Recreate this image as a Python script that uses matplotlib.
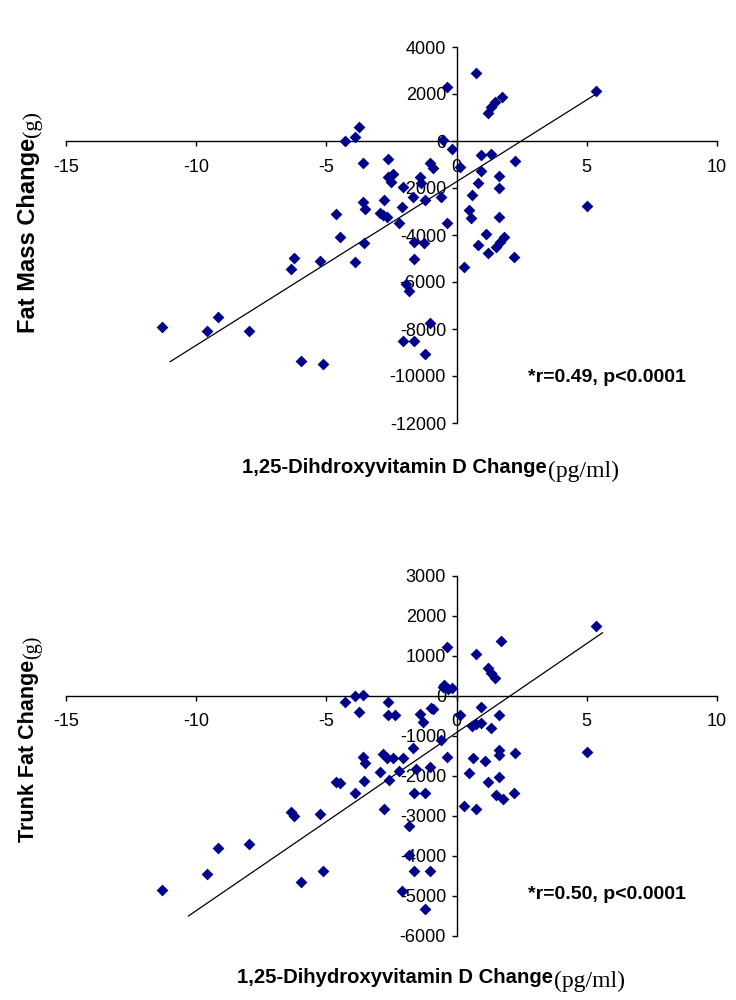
import matplotlib
matplotlib.use("Agg")
import matplotlib.pyplot as plt
from matplotlib import font_manager as fm

# ---------------- data ----------------
fat_x = [-11.31, -9.59, -9.18, -7.96, -5.97, -5.14, -6.36, -6.23, -5.24, -4.65,
         -4.47, -3.92, -3.54, -3.60, -3.51, -3.60, -4.27, -3.92, -3.73, -2.64,
         -2.64, -2.45, -2.51, -2.77, -2.96, -2.83, -2.68, -2.22, -2.10, -2.06,
         -1.68, -1.40, -1.23, -1.04, -0.91, -0.59, -0.36, -1.64, -1.26, -1.64,
         -1.94, -1.83, -1.04, -2.06, -1.62, -1.23, -0.36, -0.53, 0.73, 1.20,
         1.34, 1.47, 1.74, 5.35, 4.99, 2.23, 2.20, 0.95, 1.33, 0.95,
         0.12, -0.18, 0.82, 1.62, 1.62, 0.60, 0.46, 0.56, 1.62, 1.14,
         0.82, 1.20, 1.53, 1.68, 1.82, 0.28, -1.36]
fat_y = [-7900, -8070, -7475, -8070, -9350, -9500, -5460, -4990, -5090, -3120,
         -4070, -5160, -4320, -2580, -2890, -920, 0, 180, 610, -770,
         -1520, -1400, -1730, -2510, -3050, -3150, -3220, -3500, -2800, -1940,
         -2370, -1520, -2510, -950, -1160, -2370, -3500, -4280, -4360, -5020,
         -6090, -6370, -7760, -8510, -8510, -9080, 2310, 40, 2880, 1180,
         1430, 1650, 1890, 2130, -2750, -840, -4920, -600, -570, -1280,
         -1090, -350, -1800, -1490, -1990, -2300, -2940, -3290, -3220, -3960,
         -4430, -4750, -4500, -4280, -4070, -5350, -1770]
fat_fit_x = [-11.0, 5.4]
fat_fit_y = [-9390, 2030]

trunk_x = [-11.30, -9.59, -9.18, -7.96, -5.97, -5.14, -6.36, -6.23, -5.24, -4.65,
           -4.47, -3.92, -3.54, -3.60, -3.51, -3.76, -4.27, -3.92, -3.60, -2.64,
           -2.64, -2.38, -2.83, -2.68, -2.45, -2.06, -2.96, -2.60, -2.22, -2.77,
           -1.68, -1.42, -1.30, -0.91, -0.53, -0.59, -0.36, -1.55, -1.04, -1.62,
           -1.23, -1.81, -1.62, -1.04, -1.83, -2.10, -1.23, -0.36, 0.73, 1.72,
           1.20, 1.33, 1.46, 5.35, 4.99, 2.23, 2.20, 1.62, 0.95, 0.60,
           0.73, 0.95, 1.33, 0.12, -0.49, -0.33, -0.17, 0.63, 1.10, 1.62,
           1.62, 0.47, 1.20, 1.62, 1.53, 1.78, 0.28, 0.76, -0.97]
trunk_y = [-4850, -4460, -3790, -3710, -4660, -4370, -2890, -3000, -2950, -2140,
           -2180, -2420, -2120, -1520, -1670, -390, -160, 0, 25, -140,
           -475, -475, -1460, -1560, -1560, -1560, -1890, -2100, -1875, -2830,
           -1290, -460, -640, -330, 230, -1100, -1520, -1830, -1780, -2430,
           -2430, -3250, -4380, -4380, -3980, -4870, -5330, 1230, 1040, 1370,
           690, 565, 440, 1750, -1390, -1420, -2420, -475, -270, -750,
           -700, -680, -810, -475, 275, 170, 190, -1560, -1620, -1350,
           -1475, -1930, -2140, -2030, -2480, -2580, -2750, -2830, -310]
trunk_fit_x = [-10.3, 5.6]
trunk_fit_y = [-5500, 1580]

x_ticks = [-15, -10, -5, 0, 5, 10]
fat_yticks = [4000, 2000, 0, -2000, -4000, -6000, -8000, -10000, -12000]
trunk_yticks = [3000, 2000, 1000, 0, -1000, -2000, -3000, -4000, -5000, -6000]

fat_xlabel = "1,25-Dihdroxyvitamin D Change"
trunk_xlabel = "1,25-Dihydroxyvitamin D Change"
unit_x = "(pg/ml)"
fat_ylabel = "Fat Mass Change"
trunk_ylabel = "Trunk Fat Change"
unit_y = "(g)"
fat_stat = "*r=0.49, p<0.0001"
trunk_stat = "*r=0.50, p<0.0001"

# ---------------- style ----------------
names = {f.name for f in fm.fontManager.ttflist}
sans = "Liberation Sans" if "Liberation Sans" in names else "DejaVu Sans"
serif = "Liberation Serif" if "Liberation Serif" in names else "DejaVu Serif"
plt.rcParams["font.family"] = [sans, "DejaVu Sans"]

W, H = 736, 1000
fig = plt.figure(figsize=(W / 100, H / 100), dpi=100)
fig.patch.set_facecolor("white")

MARKER_COLOR = "#00008B"


def px_axes(l, t, r, b):
    return fig.add_axes([l / W, 1 - b / H, (r - l) / W, (b - t) / H])


def setup(ax, xs, ys, fx, fy, yticks, ylim):
    ax.scatter(xs, ys, marker="D", s=36, color=MARKER_COLOR, linewidths=0, zorder=3)
    ax.plot(fx, fy, color="black", lw=0.9, zorder=2)
    ax.set_xlim(-15, 10)
    ax.set_ylim(*ylim)
    ax.spines["left"].set_position(("data", 0))
    ax.spines["bottom"].set_position(("data", 0))
    ax.spines["top"].set_visible(False)
    ax.spines["right"].set_visible(False)
    for s in ("left", "bottom"):
        ax.spines[s].set_linewidth(1.0)
    ax.set_xticks(x_ticks)
    ax.set_yticks(yticks)
    ax.set_xticklabels([str(v) for v in x_ticks])
    ax.set_yticklabels([str(v) for v in yticks])
    ax.tick_params(direction="out", length=3.6, width=1.0, labelsize=13)
    ax.tick_params(axis="x", pad=9)
    ax.tick_params(axis="y", pad=4)
    ax.set_facecolor("none")


ax1 = px_axes(66, 47, 717, 423)
setup(ax1, fat_x, fat_y, fat_fit_x, fat_fit_y, fat_yticks, (-12000, 4000))
ax2 = px_axes(66, 576, 717, 936)
setup(ax2, trunk_x, trunk_y, trunk_fit_x, trunk_fit_y, trunk_yticks, (-6000, 3000))

ax1.text(0.7097, 0.12, fat_stat, transform=ax1.transAxes, fontsize=14,
         fontweight="bold", ha="left", va="center", family=[sans])
ax2.text(0.7097, 0.114, trunk_stat, transform=ax2.transAxes, fontsize=14,
         fontweight="bold", ha="left", va="center", family=[sans])

# labels (mixed fonts)
fig.canvas.draw()
renderer = fig.canvas.get_renderer()


def xlabel(x0, ybase, main):
    t = fig.text(x0 / W, 1 - ybase / H, main, fontsize=14.6, fontweight="bold",
                 family=[sans], ha="left", va="baseline")
    bb = t.get_window_extent(renderer)
    fig.text((bb.x1 + 1) / W, 1 - (ybase + 4) / H, unit_x, fontsize=17,
             family=[serif], ha="left", va="baseline")


def ylabel(xc, ybot, main, size):
    t = fig.text(xc / W, 1 - ybot / H, main, fontsize=size, fontweight="bold",
                 family=[sans], rotation=90, ha="center", va="bottom")
    bb = t.get_window_extent(renderer)
    fig.text((xc + 3) / W, (bb.y1 + 1) / H, unit_y, fontsize=size - 1,
             family=[serif], rotation=90, ha="center", va="bottom")


xlabel(242, 473, fat_xlabel)
xlabel(237, 983, trunk_xlabel)
ylabel(29, 333, fat_ylabel, 17)
ylabel(29, 842, trunk_ylabel, 15.5)

fig.savefig("out.png", dpi=100, facecolor="white")
